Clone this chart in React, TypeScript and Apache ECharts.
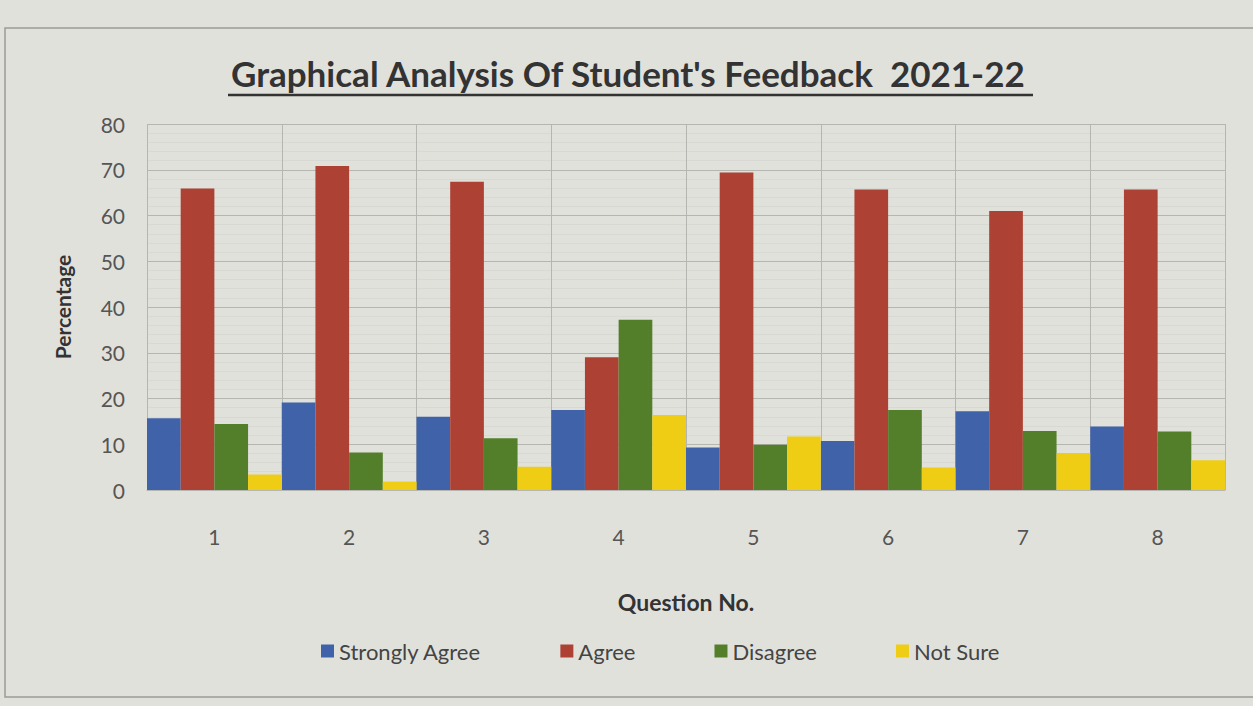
import React, { useEffect, useRef } from "react";
import * as echarts from "echarts";

const questions = ["1", "2", "3", "4", "5", "6", "7", "8"];
const stronglyAgree = [15.7, 19.1, 16.0, 17.5, 9.3, 10.7, 17.2, 13.9];
const agree = [65.9, 70.8, 67.4, 29.0, 69.4, 65.7, 61.0, 65.7];
const disagree = [14.4, 8.2, 11.3, 37.2, 9.9, 17.5, 12.9, 12.8];
const notSure = [3.4, 1.8, 5.1, 16.4, 11.7, 4.9, 8.1, 6.5];
const seriesNames = ["Strongly Agree", "Agree", "Disagree", "Not Sure"];
const colors = ["#3f62a8", "#ad4133", "#537f2a", "#eecd14"];
const titleText = "Graphical Analysis Of Student's Feedback  2021-22";

export default function App() {
  const ref = useRef<HTMLDivElement>(null);
  useEffect(() => {
    if (!ref.current) return;
    const chart = echarts.init(ref.current, undefined, { renderer: "svg" });
    const font = "Lato, 'Open Sans', sans-serif";
    const data = [stronglyAgree, agree, disagree, notSure];
    chart.setOption({
      animation: false,
      backgroundColor: "#e1e1dc",
      textStyle: { fontFamily: font },
      title: {
        text: titleText,
        left: 226,
        top: 50,
        textStyle: { fontSize: 35, fontWeight: "bold", color: "#333", fontFamily: font },
      },
      graphic: [
        {
          type: "line",
          shape: { x1: 228, y1: 95, x2: 1033, y2: 95 },
          style: { stroke: "#333", lineWidth: 2.5 },
        },
        {
          type: "rect",
          shape: { x: 5, y: 28, width: 1260, height: 669 },
          style: { fill: "none", stroke: "#9a9a96", lineWidth: 1.5 },
        },
      ],
      legend: {
        data: seriesNames,
        left: 316,
        top: 635,
        itemWidth: 13,
        itemHeight: 13,
        itemGap: 79,
        icon: "rect",
        textStyle: { fontSize: 22, color: "#444", fontFamily: font },
      },
      grid: { left: 147, right: 28, top: 124, bottom: 216 },
      xAxis: {
        type: "category",
        data: questions,
        boundaryGap: true,
        axisTick: { show: false },
        axisLine: { show: true, lineStyle: { color: "#b5b5b2" } },
        splitLine: { show: true, lineStyle: { color: "#b5b5b2", width: 1 } },
        axisLabel: { fontSize: 21, color: "#555", margin: 36, fontFamily: font },
        name: "Question No.",
        nameLocation: "middle",
        nameGap: 100,
        nameTextStyle: { fontSize: 23, fontWeight: "bold", color: "#333", fontFamily: font },
      },
      yAxis: {
        type: "value",
        min: 0,
        max: 80,
        interval: 10,
        axisLine: { show: false },
        axisTick: { show: false },
        axisLabel: { fontSize: 21, color: "#555", margin: 22, fontFamily: font },
        splitLine: { show: true, lineStyle: { color: "#b5b5b2", width: 1 } },
        minorTick: { show: false, splitNumber: 5 },
        minorSplitLine: { show: true, lineStyle: { color: "#d8d8d4", width: 1 } },
        name: "Percentage",
        nameLocation: "middle",
        nameGap: 74,
        nameTextStyle: { fontSize: 21, fontWeight: "bold", color: "#333", fontFamily: font },
      },
      series: seriesNames.map((name, i) => ({
        name,
        type: "bar",
        data: data[i],
        barGap: "0%",
        barCategoryGap: "0%",
        itemStyle: { color: colors[i] },
      })),
    });
    return () => chart.dispose();
  }, []);
  return <div ref={ref} style={{ width: 1253, height: 706, position: "absolute", left: 0, top: 0 }} />;
}
